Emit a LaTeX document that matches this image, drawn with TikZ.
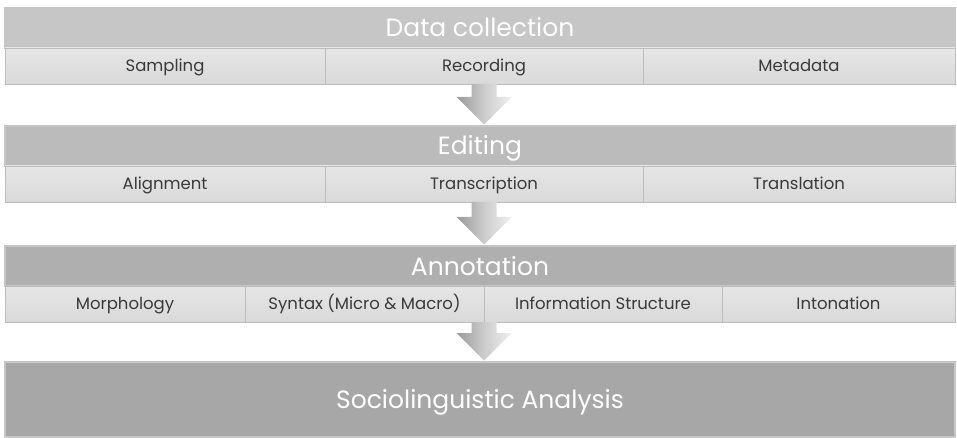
\documentclass[tikz,border=0pt]{standalone}
\usepackage{fontspec}
\setmainfont{Poppins}
\usetikzlibrary{positioning, calc}

\definecolor{headA}{HTML}{C6C6C6}
\definecolor{headB}{HTML}{BBBBBB}
\definecolor{headC}{HTML}{AFAFAF}
\definecolor{headD}{HTML}{A7A7A7}
\definecolor{cellTop}{HTML}{E6E6E6}
\definecolor{cellBot}{HTML}{D9D9D9}
\definecolor{cellLine}{HTML}{BDBDBD}
\definecolor{cellText}{HTML}{3A3A3A}

\tikzset{
	head/.style={draw=white!55!gray, line width=1.2pt, minimum width=950pt, minimum height=40pt, inner sep=0pt, outer sep=0pt, text=white, text height=18pt, text depth=0pt, font=\fontsize{25}{27}\selectfont},
	cell/.style={draw=cellLine, line width=0.8pt, top color=cellTop, bottom color=cellBot, minimum height=36pt, inner sep=0pt, outer sep=0pt, anchor=north west, text=cellText, text height=11.5pt, text depth=0pt, font=\fontsize{16.5}{18}\selectfont},
	flow/.style={left color=black!40, right color=black!6, middle color=black!20}
}

\newcommand{\flowarrow}[2]{
	\shade[flow] ($(#1)+(-12.5pt,0)$) -- ($(#1)+(12.5pt,0)$) -- ($(#2)+(12.5pt,29pt)$) -- ($(#2)+(27.5pt,29pt)$)
		-- ($(#2)+(0,1.5pt)$) -- ($(#2)+(-27.5pt,29pt)$) -- ($(#2)+(-12.5pt,29pt)$) -- cycle;
}

\begin{document}
\begin{tikzpicture}
	\useasboundingbox (0,0) rectangle (957pt,-438pt);

	\node[head, fill=headA] (dc) at (480pt,-28pt) {Data collection};
	\node[cell, minimum width=320pt] (smp) at (dc.south west) {Sampling};
	\node[cell, minimum width=318pt] (rec) at (smp.north east) {Recording};
	\node[cell, minimum width=312pt] (met) at (rec.north east) {Metadata};

	\node[head, fill=headB] (ed) [below=42pt of smp.south west, anchor=north west] {Editing};
	\node[cell, minimum width=320pt] (aln) at (ed.south west) {Alignment};
	\node[cell, minimum width=318pt] (trs) at (aln.north east) {Transcription};
	\node[cell, minimum width=312pt] (trl) at (trs.north east) {Translation};

	\node[head, fill=headC] (an) [below=44pt of aln.south west, anchor=north west] {Annotation};
	\node[cell, minimum width=240pt] (mor) at (an.south west) {Morphology};
	\node[cell, minimum width=239pt] (syn) at (mor.north east) {Syntax (Micro \& Macro)};
	\node[cell, minimum width=238pt] (inf) at (syn.north east) {Information Structure};
	\node[cell, minimum width=233pt] (int) at (inf.north east) {Intonation};

	\node[head, fill=headD, minimum height=75pt] (soc) [below=40pt of mor.south west, anchor=north west] {Sociolinguistic Analysis};

	\coordinate (a1) at (rec.north |- ed.north);
	\coordinate (a2) at (trs.north |- an.north);
	\coordinate (a3) at (syn.south east |- soc.north);

	\flowarrow{rec.south}{a1}
	\flowarrow{trs.south}{a2}
	\flowarrow{syn.south east}{a3}
\end{tikzpicture}
\end{document}
